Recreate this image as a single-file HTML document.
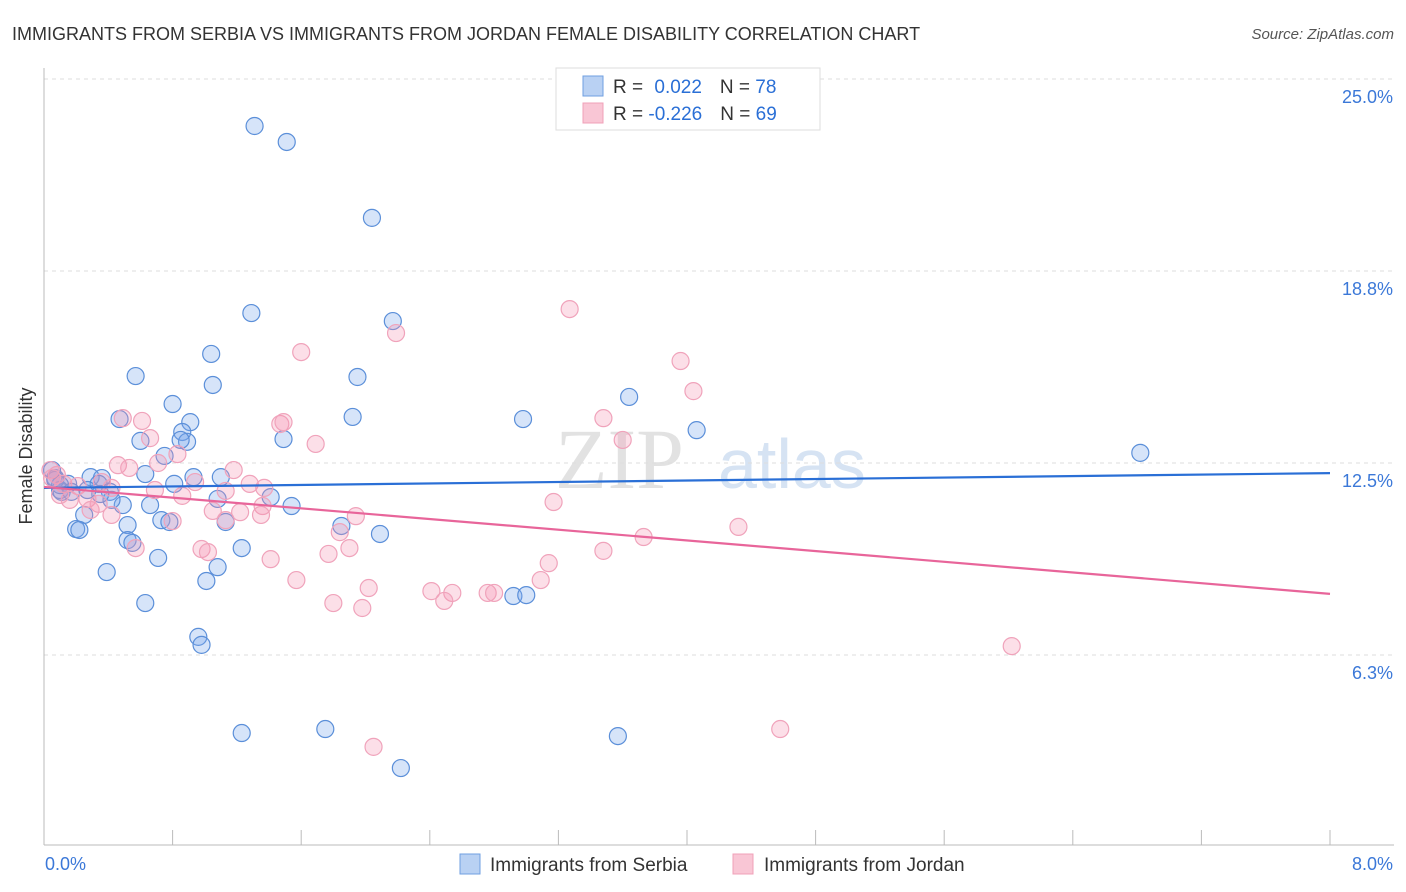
<!DOCTYPE html>
<html><head><meta charset="utf-8">
<style>
body{margin:0;background:#fff;font-family:"Liberation Sans",sans-serif;}
#wrap{position:relative;width:1406px;height:892px;overflow:hidden;}
</style></head>
<body>
<div id="wrap">
<svg id="svg" width="1406" height="892" xmlns="http://www.w3.org/2000/svg">
<text x="12" y="40" font-size="18" fill="#333">IMMIGRANTS FROM SERBIA VS IMMIGRANTS FROM JORDAN FEMALE DISABILITY CORRELATION CHART</text>
<text x="1394" y="39" font-size="15" fill="#555" text-anchor="end" font-style="italic">Source: ZipAtlas.com</text>
<text x="36" y="456" font-size="18" fill="#333" text-anchor="middle" transform="rotate(-90 36 456)" dy="-4">Female Disability</text>
<g>
<text x="555" y="488" font-size="86" font-family="Liberation Serif,serif" fill="#e2e2e2">ZIP</text>
<text x="718" y="488" font-size="70" fill="#d6e3f3">atlas</text>
</g>
<g id="grid"></g>
<g id="axes"></g>
<g id="pts"></g>
<g id="lines"></g>
<g>
<rect x="556" y="68" width="264" height="62" fill="#fff" stroke="#ddd"/>
<rect x="583" y="76" width="20" height="20" fill="#b9d1f3" stroke="#6f9fe0"/>
<rect x="583" y="103" width="20" height="20" fill="#f9c6d5" stroke="#f0a0b8"/>
<text x="613" y="93" font-size="19" fill="#333">R = <tspan fill="#2a6fd6" dx="6">0.022</tspan><tspan dx="18" fill="#333">N = </tspan><tspan fill="#2a6fd6">78</tspan></text>
<text x="613" y="120" font-size="19" fill="#333">R = <tspan fill="#2a6fd6">-0.226</tspan><tspan dx="18" fill="#333">N = </tspan><tspan fill="#2a6fd6">69</tspan></text>
</g>
<g>
<rect x="460" y="854" width="20" height="20" fill="#b9d1f3" stroke="#6f9fe0"/>
<text x="490" y="871" font-size="19" fill="#333">Immigrants from Serbia</text>
<rect x="733" y="854" width="20" height="20" fill="#f9c6d5" stroke="#f0a0b8"/>
<text x="764" y="871" font-size="19" fill="#333">Immigrants from Jordan</text>
</g>
</svg>
</div>
<script>
const yTicks=[25.0,18.8,12.5,6.3];
const yTickVals=[25,18.75,12.5,6.25];
const xTickLabels=["0.0%","8.0%"];
const serbiaX=[1.31,1.51,2.04,1.29,2.17,1.04,0.57,1.95,1.05,0.80,3.64,1.92,2.98,0.47,0.91,0.86,4.06,0.60,0.89,1.49,0.85,6.82,0.75,0.63,0.93,1.10,0.36,0.29,0.07,0.15,0.34,0.81,0.10,0.41,1.41,1.08,1.54,0.11,0.49,0.66,0.25,0.73,0.78,0.52,1.13,0.20,0.22,1.85,0.52,0.55,2.09,1.23,0.71,1.08,0.39,1.01,0.63,2.92,3.00,0.96,0.98,1.23,1.75,3.57,2.22,0.07,0.05,0.10,0.42,0.35,0.17,0.27];
const serbiaY=[23.47,22.95,20.48,17.38,17.12,16.05,15.33,15.30,15.04,14.42,14.65,14.00,13.93,13.93,13.83,13.51,13.57,13.22,13.19,13.28,13.25,12.83,12.73,12.14,12.04,12.04,12.01,12.04,12.01,11.82,11.82,11.82,11.62,11.56,11.39,11.33,11.10,11.56,11.13,11.13,10.81,10.64,10.58,10.48,10.58,10.35,10.32,10.45,9.99,9.90,10.19,9.73,9.41,9.11,8.95,8.66,7.94,8.17,8.20,6.84,6.58,3.71,3.84,3.61,2.57,11.95,12.27,11.78,11.30,11.49,11.56,11.62];
const jordanX=[3.27,2.19,1.60,3.96,4.04,0.49,0.61,1.47,3.48,1.49,0.66,3.60,1.69,0.83,0.46,0.71,0.53,1.18,1.28,0.36,0.69,0.94,0.86,1.13,1.37,0.08,0.12,0.21,0.42,0.16,0.27,0.34,1.05,1.22,1.36,1.35,1.94,3.17,0.42,0.80,1.13,1.84,4.32,3.73,0.57,0.98,1.02,3.48,1.90,1.77,3.14,1.41,1.57,3.09,2.02,2.41,2.54,2.76,2.80,1.80,1.98,2.49,6.02,4.58,2.05,0.04,0.05,0.29,0.10];
const jordanY=[17.51,16.73,16.11,15.82,14.84,13.96,13.87,13.77,13.96,13.83,13.31,13.25,13.12,12.79,12.43,12.50,12.34,12.27,11.82,11.88,11.62,11.88,11.43,11.59,11.69,12.11,11.82,11.75,11.69,11.30,11.33,11.17,10.94,10.90,11.10,10.81,10.77,11.23,10.81,10.61,10.64,10.25,10.42,10.09,9.73,9.70,9.60,9.64,9.73,9.54,9.24,9.37,8.69,8.69,8.43,8.33,8.27,8.27,8.27,7.94,7.78,8.01,6.54,3.84,3.26,12.27,12.01,10.97,11.46];
const serbiaTrend=[11.69,12.17];
const jordanTrend=[11.72,8.24];

const NS="http://www.w3.org/2000/svg";
const X=v=>44+v*160.75;
const Y=v=>79+(25-v)*30.72;
function mk(tag,attrs,parent){const e=document.createElementNS(NS,tag);for(const k in attrs)e.setAttribute(k,attrs[k]);parent.appendChild(e);return e;}
const grid=document.getElementById('grid');
yTickVals.forEach((v,i)=>{
  const l=mk('line',{x1:44,x2:1394,y1:Y(v),y2:Y(v),stroke:'#ddd','stroke-dasharray':'4,4'},grid);
  
  
  const t=mk('text',{x:1393,y:Y(v)+24,'font-size':18,fill:'#3b78d8','text-anchor':'end'},grid);
  t.textContent=yTicks[i].toFixed(1)+'%';
  
  
});
const axes=document.getElementById('axes');
const ya=mk('line',{x1:44,x2:44,y1:68,y2:845,stroke:'#bbb'},axes);


const xa=mk('line',{x1:44,x2:1394,y1:845,y2:845,stroke:'#bbb'},axes);


for(let i=0;i<=10;i++){
  const tk=mk('line',{x1:X(i*0.8),x2:X(i*0.8),y1:830,y2:845,stroke:'#bbb'},axes);
  
  
}
[[0,'start',45],[8,'end',1393]].forEach((a,i)=>{
  const t=mk('text',{x:a[2],y:870,'font-size':18,fill:'#3b78d8','text-anchor':a[1]},axes);
  t.textContent=xTickLabels[i];
  
  
});
const pts=document.getElementById('pts');
serbiaX.forEach((v,i)=>{
  const c=mk('circle',{cx:X(v),cy:Y(serbiaY[i]),r:8.5,fill:'rgba(120,165,235,0.3)',stroke:'#5b8fd9','stroke-width':1.2},pts);
  
  
});
jordanX.forEach((v,i)=>{
  const c=mk('circle',{cx:X(v),cy:Y(jordanY[i]),r:8.5,fill:'rgba(245,150,180,0.3)',stroke:'#f0a3bb','stroke-width':1.2},pts);
  
  
});
const lines=document.getElementById('lines');
const l1=mk('line',{x1:X(0),x2:X(8),y1:Y(serbiaTrend[0]),y2:Y(serbiaTrend[1]),stroke:'#2a6fd6','stroke-width':2.2},lines);


const l2=mk('line',{x1:X(0),x2:X(8),y1:Y(jordanTrend[0]),y2:Y(jordanTrend[1]),stroke:'#e8659a','stroke-width':2.2},lines);


</script>
</body></html>
